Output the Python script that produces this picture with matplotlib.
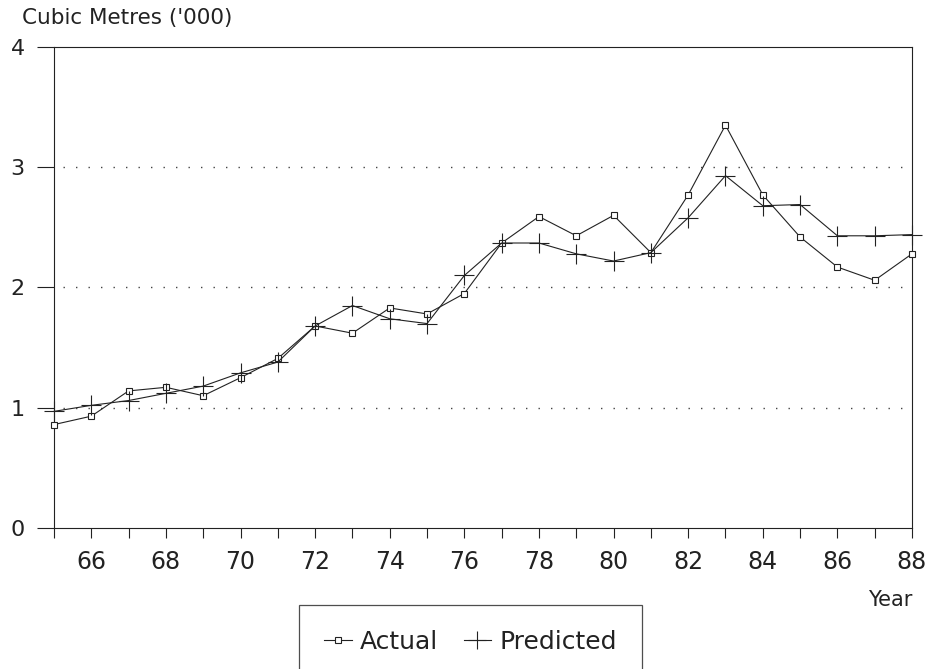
import matplotlib
matplotlib.use("Agg")
import matplotlib.pyplot as plt
from matplotlib.ticker import MultipleLocator
import numpy as np

# {{{ data
years = np.arange(65, 89)
actual = [0.86, 0.93, 1.14, 1.17, 1.10, 1.25, 1.41, 1.68, 1.62, 1.83, 1.78, 1.95,
          2.37, 2.59, 2.43, 2.60, 2.29, 2.77, 3.35, 2.77, 2.42, 2.17, 2.06, 2.28]
predicted = [0.97, 1.02, 1.06, 1.12, 1.18, 1.29, 1.38, 1.68, 1.85, 1.74, 1.70, 2.10,
             2.37, 2.37, 2.28, 2.22, 2.29, 2.58, 2.93, 2.68, 2.69, 2.43, 2.43, 2.44]
y_ticks = [0, 1, 2, 3, 4]
# }}}

ink = "#222222"
plt.rcParams["font.family"] = ["DejaVu Sans"]

fig = plt.figure(figsize=(9.33, 6.69), dpi=100)
ax = fig.add_axes([54 / 933, 1 - 528 / 669, 858 / 933, 481 / 669])

(l_act,) = ax.plot(years, actual, "-", color=ink, lw=0.8, marker="s", ms=3.8,
                   mfc="white", mec=ink, mew=0.8, label="Actual", clip_on=False,
                   zorder=3)
(l_pred,) = ax.plot(years, predicted, "-", color=ink, lw=0.8, marker="+", ms=15,
                    mew=0.8, label="Predicted", clip_on=False, zorder=3)

ax.set_xlim(65, 88)
ax.set_ylim(0, 4)
ax.set_yticks(y_ticks)
ax.xaxis.set_major_locator(MultipleLocator(2))
ax.xaxis.set_minor_locator(MultipleLocator(1))
ax.set_xticks([66 + 2 * i for i in range(12)])

for gy in [1, 2, 3]:
    ax.axhline(gy, xmin=0.01, xmax=0.99, color="#444444", lw=1.0,
               ls=(0, (1, 8)), zorder=1)

for s in ax.spines.values():
    s.set_color(ink)
    s.set_linewidth(0.8)

ax.tick_params(axis="y", direction="out", length=12, width=0.8, color=ink,
               labelsize=16, pad=9, labelcolor=ink)
ax.tick_params(axis="x", which="both", direction="out", length=7, width=0.8,
               color=ink, labelsize=17, pad=9, labelcolor=ink)

fig.text(22 / 933, 1 - 18 / 669, "Cubic Metres ('000)", fontsize=15.5,
         color=ink, ha="left", va="center")
fig.text(912 / 933, 1 - 600 / 669, "Year", fontsize=15, color=ink,
         ha="right", va="center")

leg = fig.legend(handles=[l_act, l_pred], loc="upper left",
                 bbox_to_anchor=(299 / 933, 1 - 605 / 669), ncol=2,
                 fontsize=18, frameon=True, fancybox=False, handlelength=1.1,
                 handletextpad=0.35, columnspacing=1.0, borderpad=1.0,
                 borderaxespad=0)
leg.get_frame().set_edgecolor(ink)
leg.get_frame().set_linewidth(0.9)
for t in leg.get_texts():
    t.set_color(ink)
for h in leg.legend_handles:
    if h.get_marker() == "+":
        h.set_markersize(13)

fig.savefig("out.png", dpi=100)
